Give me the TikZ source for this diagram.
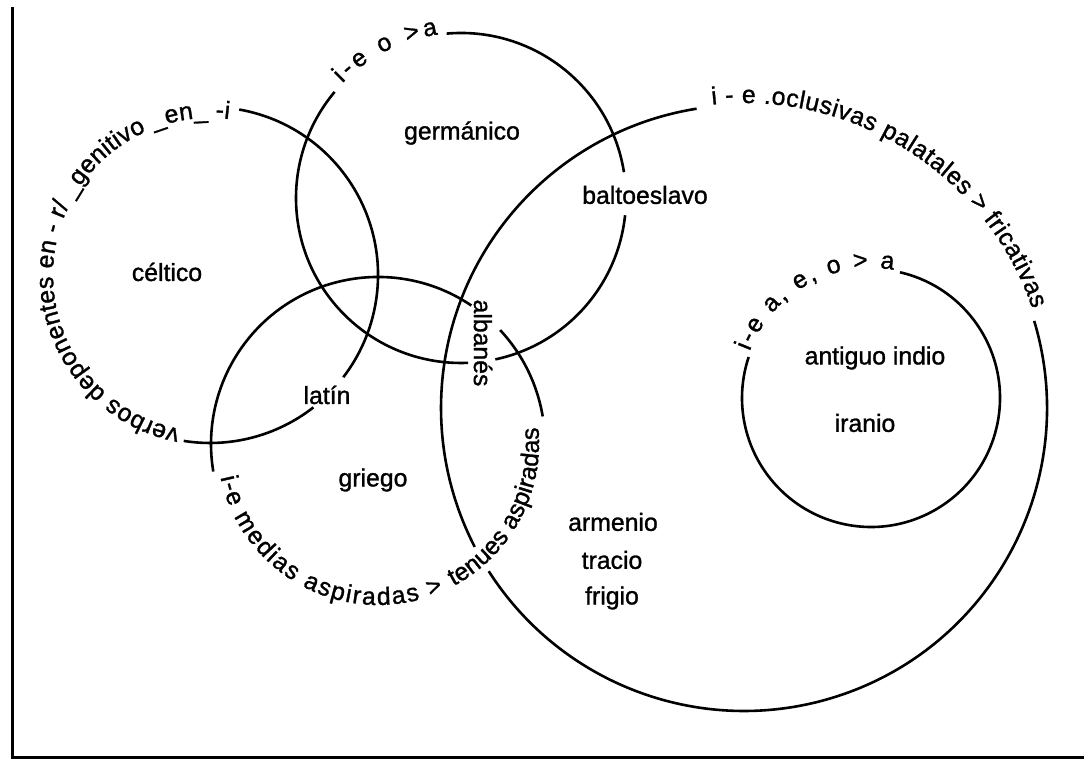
\documentclass[tikz,border=0pt]{standalone}
\usepackage{fontspec}
\setmainfont{Liberation Sans}[FakeBold=1.2]
\usetikzlibrary{decorations.text}
\newcommand{\lblfont}{\fontsize{12.4}{14}\selectfont}
\tikzset{
  ring/.style={line width=1.3pt},
  lbl/.style={font=\lblfont, inner sep=0pt},
  curved/.style={decorate, decoration={text along path, text align=fit to path, text={|\lblfont|#1}}}
}

\begin{document}
\begin{tikzpicture}[x=0.5pt,y=0.5pt]
\useasboundingbox (0,0) rectangle (1084,763);
\draw[line width=1.5pt] (12,756) -- (12,5) -- (1084,5);

\coordinate (celt) at (210,488);
\coordinate (germ) at (461,565);
\coordinate (grie) at (378,319);
\coordinate (sate) at (744,355);
\coordinate (indo) at (871,365);

% celtico
\draw[ring] (celt) ++(80:168) arc[start angle=80, end angle=-37.5, radius=168];
\draw[ring] (celt) ++(-52:168) arc[start angle=-52, end angle=-99, radius=168];
\path[curved={verbos deponentes en - r/ {\_}genitivo {\_}en{\_} -i}] (celt) ++(-101:157) arc[start angle=-101, end angle=-277, radius=157];

% germanico
\draw[ring] (germ) ++(95:165) arc[start angle=95, end angle=9, radius=165];
\draw[ring] (germ) ++(-6:165) arc[start angle=-6, end angle=-78, radius=165];
\draw[ring] (germ) ++(-87.5:165) arc[start angle=-87.5, end angle=-220, radius=165];
\path[curved={i-e o >a}] (germ) ++(136:165) arc[start angle=136, end angle=98, radius=165];

% griego
\draw[ring] (grie) ++(9.5:167) arc[start angle=9.5, end angle=43, radius=167];
\draw[ring] (grie) ++(56:167) arc[start angle=56, end angle=189.5, radius=167];
\path[curved={i-e medias aspiradas >}] (grie) ++(192:161) arc[start angle=192, end angle=294, radius=161];
\path[curved={tenues aspiradas}] (grie) ++(298:161) arc[start angle=298, end angle=366, radius=161];

% satem
\draw[ring] (sate) ++(16.7:303) arc[start angle=16.7, end angle=-147.4, radius=303];
\draw[ring] (sate) ++(-152.7:303) arc[start angle=-152.7, end angle=-261, radius=303];
\path[curved={i - e .oclusivas palatales > fricativas}] (sate) ++(96:305) arc[start angle=96, end angle=19, radius=305];

% indoiranio
\draw[ring] (indo) ++(77:129) arc[start angle=77, end angle=-198.5, radius=129];
\path[curved={i-e a, e, o > a}] (indo) ++(159:130) arc[start angle=159, end angle=80, radius=130];

\node[lbl] (celtico) at (167,491) {céltico};
\node[lbl] (germanico) at (462,630) {germánico};
\node[lbl] (baltoeslavo) at (645,568) {baltoeslavo};
\node[lbl] (latin) at (327,368) {latín};
\node[lbl] (griego) at (373,283) {griego};
\node[lbl, rotate=-90] (albanes) at (483,420) {albanés};
\node[lbl] (armenio) at (613,241) {armenio};
\node[lbl] (tracio) at (612,203) {tracio};
\node[lbl] (frigio) at (612,165) {frigio};
\node[lbl] (antiguo) at (875,405) {antiguo indio};
\node[lbl] (iranio) at (865,340) {iranio};
\end{tikzpicture}
\end{document}
